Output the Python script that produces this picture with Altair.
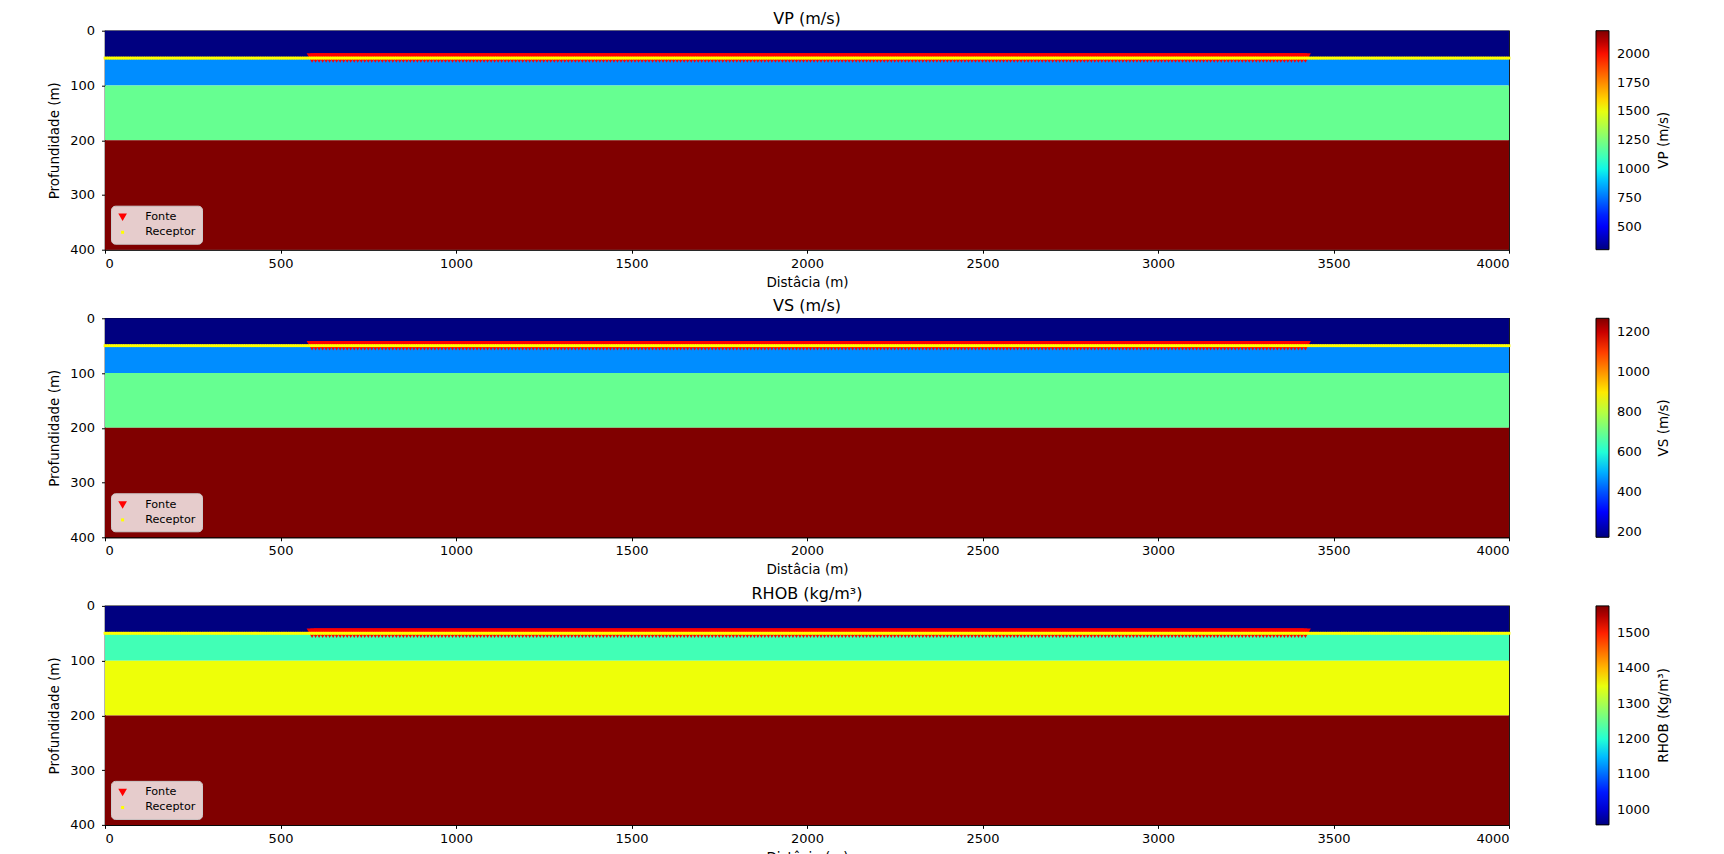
import altair as alt
import pandas as pd

# ---------------- data ----------------
DEPTH_TOP = [0, 50, 100, 200]
DEPTH_BOTTOM = [50, 100, 200, 400]
VP = [300, 800, 1200, 2200]
VS = [173.2, 461.9, 692.8, 1270.2]
RHOB = [957.3, 1223.2, 1353.7, 1577.0]
X_MIN, X_MAX = 0, 4000

# acquisition geometry (regular grids)
SRC_X = list(range(590, 3421, 10))
SRC_Z = 50
REC_X = list(range(0, 4001, 5))
REC_Z = 50

PANEL_TITLES = ["VP (m/s)", "VS (m/s)", "RHOB (kg/m³)"]
CBAR_TITLES = ["VP (m/s)", "VS (m/s)", "RHOB (Kg/m³)"]
CBAR_TICKS = [
    [500, 750, 1000, 1250, 1500, 1750, 2000],
    [200, 400, 600, 800, 1000, 1200],
    [1000, 1100, 1200, 1300, 1400, 1500],
]
LEGEND_LABELS = ["Fonte", "Receptor"]
X_TICKS = [0, 500, 1000, 1500, 2000, 2500, 3000, 3500, 4000]
Y_TICKS = [0, 100, 200, 300, 400]

# jet colormap anchors
JET_T = [0, 0.11, 0.125, 0.34, 0.35, 0.375, 0.64, 0.65, 0.66, 0.89, 0.91, 1]
JET_C = ["#000080", "#0000ff", "#0000ff", "#00dbff", "#00e6f7", "#15ffe2",
         "#eeff08", "#f7f500", "#ffec00", "#ff1300", "#e80000", "#800000"]

FONT = "DejaVu Sans"
W, H = 1404, 219
CB_X = W + 87


def enc_x():
    return alt.X("x:Q", scale=alt.Scale(domain=[X_MIN, X_MAX], nice=False, zero=False),
                 axis=alt.Axis(values=X_TICKS, format="d", title="Distâcia (m)",
                               labelPadding=4, titlePadding=5))


def enc_y():
    return alt.Y("z:Q", scale=alt.Scale(domain=[0, 400], nice=False, zero=False, reverse=True),
                 axis=alt.Axis(values=Y_TICKS, format="d", title="Profundidade (m)",
                               labelPadding=7, titlePadding=8))


def panel(values, title, cbar_title, cbar_ticks):
    model = pd.DataFrame({"x": X_MIN, "x_fim": X_MAX, "z": DEPTH_TOP,
                          "z_fim": DEPTH_BOTTOM, "valor": values})
    vmin, vmax = min(values), max(values)
    dom = [vmin + t * (vmax - vmin) for t in JET_T]

    heat = alt.Chart(model).mark_rect(strokeWidth=0).encode(
        x=enc_x(), x2="x_fim:Q", y=enc_y(), y2="z_fim:Q",
        color=alt.Color("valor:Q",
                        scale=alt.Scale(domain=dom, range=JET_C, interpolate="rgb",
                                        nice=False, zero=False),
                        legend=alt.Legend(
                            title=None, orient="none", legendX=CB_X, legendY=0,
                            direction="vertical", gradientLength=H, gradientThickness=13,
                            gradientStrokeColor="black", gradientStrokeWidth=1,
                            values=cbar_ticks, format="d", labelFont=FONT, labelFontSize=13,
                            labelColor="black", labelOffset=8, labelOverlap=False,
                            padding=0)),
    )

    cbar_label = alt.Chart(pd.DataFrame({"t": [cbar_title]})).mark_text(
        angle=270, font=FONT, fontSize=13.5, color="black", align="center", baseline="middle"
    ).encode(text="t:N", x=alt.value(CB_X + 68), y=alt.value(H / 2))

    src = alt.Chart(pd.DataFrame({"x": SRC_X, "z": SRC_Z})).mark_point(
        shape="triangle-down", filled=True, size=120, color="#ff0000", opacity=1,
        strokeWidth=0).encode(x=enc_x(), y=enc_y())

    rec = alt.Chart(pd.DataFrame({"x": REC_X, "z": REC_Z})).mark_point(
        shape="square", filled=True, size=8, color="#ffff00", opacity=1,
        strokeWidth=0).encode(x=enc_x(), y=enc_y())

    leg = alt.Legend(title=None, orient="bottom-left", offset=6,
                     fillColor="rgba(255,255,255,0.8)", strokeColor="#cccccc",
                     cornerRadius=4, padding=6, labelFont=FONT, labelFontSize=11.2,
                     labelColor="black", symbolOpacity=1, symbolStrokeWidth=0,
                     rowPadding=3, labelOffset=17)
    key = alt.Chart(pd.DataFrame({"tipo": LEGEND_LABELS, "x": [X_MIN, X_MIN], "z": [0, 0]})
                    ).mark_point(filled=True, opacity=0).encode(
        x=enc_x(), y=enc_y(),
        fill=alt.Fill("tipo:N", scale=alt.Scale(domain=LEGEND_LABELS, range=["#ff0000", "#ffff00"]),
                      legend=leg),
        shape=alt.Shape("tipo:N", scale=alt.Scale(domain=LEGEND_LABELS,
                                                  range=["triangle-down", "square"]), legend=leg),
        size=alt.Size("tipo:N", scale=alt.Scale(domain=LEGEND_LABELS, range=[75, 9]), legend=leg),
    )

    return alt.layer(heat, src, rec, key, cbar_label).properties(
        width=W, height=H, title=alt.TitleParams(title))


panels = [panel(v, t, c, k) for v, t, c, k in
          zip([VP, VS, RHOB], PANEL_TITLES, CBAR_TITLES, CBAR_TICKS)]

chart = alt.vconcat(*panels, spacing=7.6).resolve_scale(
    color="independent", fill="independent", shape="independent", size="independent"
).properties(
    padding={"left": 47, "top": 9.7, "right": 5, "bottom": 5}, background="white"
).configure_view(stroke="black", strokeWidth=1.2).configure_axis(
    domainColor="black", tickColor="black", tickSize=3.5, labelColor="black",
    labelFont=FONT, labelFontSize=13, titleFont=FONT, titleFontSize=13.5,
    titleFontWeight="normal", titleColor="black", grid=False
).configure_title(
    font=FONT, fontSize=16, fontWeight="normal", color="black", offset=-2, anchor="middle"
)

chart.save("out.html", embed_options={"renderer": "svg", "actions": False})
